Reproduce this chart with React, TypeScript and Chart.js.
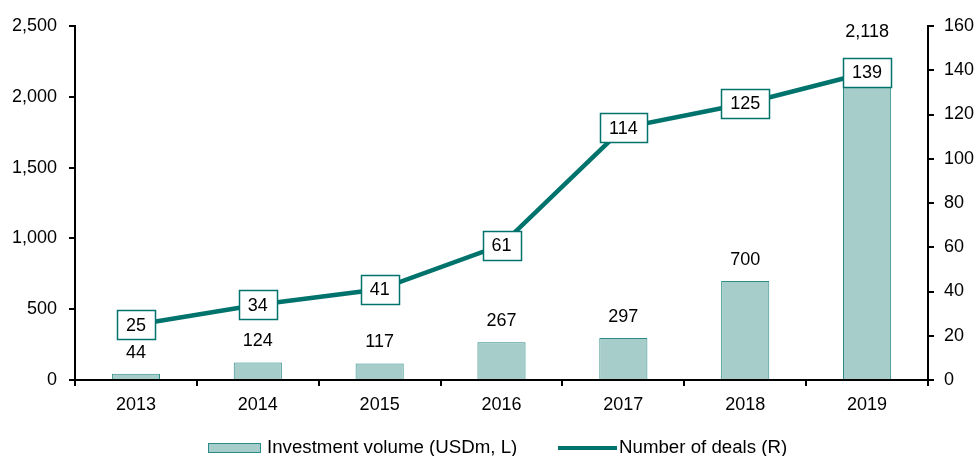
import React, { useEffect, useRef } from "react";
import { Chart, registerables } from "chart.js";

Chart.register(...registerables);

const years = ["2013", "2014", "2015", "2016", "2017", "2018", "2019"];
const investmentVolume = [44, 124, 117, 267, 297, 700, 2118];
const numberOfDeals = [25, 34, 41, 61, 114, 125, 139];
const seriesLabels = ["Investment volume (USDm, L)", "Number of deals (R)"];
const leftAxis = { min: 0, max: 2500, step: 500 };
const rightAxis = { min: 0, max: 160, step: 20 };

const FONT = '"Liberation Sans", Arial, sans-serif';
const BAR_FILL = "#a7cdcb";
const BAR_BORDER = "#2b8c87";
const LINE = "#00736d";

const labelsPlugin = {
  id: "valueLabels",
  afterDatasetsDraw(chart: any) {
    const ctx = chart.ctx;
    const barMeta = chart.getDatasetMeta(0);
    const lineMeta = chart.getDatasetMeta(1);
    ctx.save();
    ctx.font = `18px ${FONT}`;
    ctx.textAlign = "center";
    ctx.textBaseline = "middle";
    const boxes: { x: number; y: number; w: number; h: number }[] = [];
    lineMeta.data.forEach((pt: any, i: number) => {
      const text = String(numberOfDeals[i]);
      const w = Math.round(ctx.measureText(text).width + 18);
      const h = 29;
      const x = Math.round(pt.x - w / 2) + 0.5;
      const y = Math.round(pt.y - h / 2) + 0.5;
      ctx.fillStyle = "#ffffff";
      ctx.fillRect(x, y, w, h);
      ctx.strokeStyle = LINE;
      ctx.lineWidth = 1.5;
      ctx.strokeRect(x, y, w, h);
      ctx.fillStyle = "#000000";
      ctx.fillText(text, pt.x, pt.y + 1);
      boxes.push({ x, y, w, h });
    });
    barMeta.data.forEach((bar: any, i: number) => {
      const text = investmentVolume[i].toLocaleString("en-US");
      let cy = bar.y - 21;
      const b = boxes[i];
      if (b && cy + 10 > b.y && cy - 10 < b.y + b.h) cy = b.y - 26;
      ctx.fillStyle = "#000000";
      ctx.fillText(text, bar.x, cy);
    });
    ctx.restore();
  },
};

const legendPlugin = {
  id: "customLegend",
  afterDraw(chart: any) {
    const ctx = chart.ctx;
    ctx.save();
    ctx.font = `18.7px ${FONT}`;
    ctx.textBaseline = "middle";
    ctx.textAlign = "left";
    const cy = 448;
    // bar item
    ctx.fillStyle = BAR_FILL;
    ctx.fillRect(208.5, 443.5, 52, 9);
    ctx.strokeStyle = BAR_BORDER;
    ctx.lineWidth = 1;
    ctx.strokeRect(208.5, 443.5, 52, 9);
    ctx.fillStyle = "#000000";
    ctx.fillText(seriesLabels[0], 267, cy);
    // line item
    ctx.strokeStyle = LINE;
    ctx.lineWidth = 4;
    ctx.beginPath();
    ctx.moveTo(558, cy);
    ctx.lineTo(617, cy);
    ctx.stroke();
    ctx.fillText(seriesLabels[1], 619, cy);
    ctx.restore();
  },
};

export default function App() {
  const canvasRef = useRef<HTMLCanvasElement | null>(null);

  useEffect(() => {
    if (!canvasRef.current) return;
    const tickFont = { family: FONT, size: 18 };
    const chart = new Chart(canvasRef.current, {
      type: "bar",
      data: {
        labels: years,
        datasets: [
          {
            type: "bar",
            label: seriesLabels[0],
            data: investmentVolume,
            backgroundColor: BAR_FILL,
            borderColor: BAR_BORDER,
            borderWidth: 1,
            yAxisID: "y",
            categoryPercentage: 1,
            barPercentage: 0.395,
            order: 2,
          },
          {
            type: "line",
            label: seriesLabels[1],
            data: numberOfDeals,
            borderColor: LINE,
            backgroundColor: LINE,
            borderWidth: 4.5,
            pointRadius: 0,
            tension: 0,
            yAxisID: "y1",
            order: 1,
          },
        ],
      } as any,
      options: {
        responsive: false,
        animation: false,
        layout: { padding: { top: 26, left: 0, right: 0, bottom: 0 } },
        plugins: {
          legend: { display: false },
          tooltip: { enabled: false },
        },
        scales: {
          x: {
            offset: true,
            grid: {
              offset: true,
              drawOnChartArea: false,
              drawTicks: true,
              tickLength: 6,
              color: "#000000",
              lineWidth: 2,
            },
            border: { color: "#000000", width: 2 },
            ticks: { font: tickFont, color: "#000000", padding: 8, maxRotation: 0 },
            afterFit: (s: any) => {
              s.height = 76;
            },
          },
          y: {
            position: "left",
            min: leftAxis.min,
            max: leftAxis.max,
            grid: {
              drawOnChartArea: false,
              tickLength: 6,
              color: "#000000",
              lineWidth: 2,
            },
            border: { color: "#000000", width: 2 },
            ticks: {
              stepSize: leftAxis.step,
              font: tickFont,
              color: "#000000",
              padding: 12,
              callback: (v: any) => Number(v).toLocaleString("en-US"),
            },
            afterFit: (s: any) => {
              s.width = 75;
            },
          },
          y1: {
            position: "right",
            min: rightAxis.min,
            max: rightAxis.max,
            grid: {
              drawOnChartArea: false,
              tickLength: 6,
              color: "#000000",
              lineWidth: 2,
            },
            border: { color: "#000000", width: 2 },
            ticks: {
              stepSize: rightAxis.step,
              font: tickFont,
              color: "#000000",
              padding: 10,
            },
            afterFit: (s: any) => {
              s.width = 48;
            },
          },
        },
      } as any,
      plugins: [labelsPlugin, legendPlugin],
    });
    return () => chart.destroy();
  }, []);

  return (
    <div style={{ position: "absolute", left: 0, top: 0, width: 976, height: 456, background: "#ffffff" }}>
      <canvas ref={canvasRef} width={976} height={456} style={{ display: "block" }} />
    </div>
  );
}
